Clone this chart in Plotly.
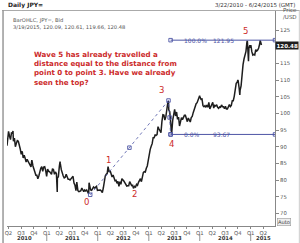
import plotly.graph_objects as go

# ---------------- data ----------------
dates = [
 "2010-03-22","2010-03-26","2010-04-02","2010-04-09","2010-04-16","2010-04-23","2010-04-30","2010-05-04","2010-05-07","2010-05-14",
 "2010-05-21","2010-05-28","2010-06-04","2010-06-11","2010-06-18","2010-06-25","2010-07-02","2010-07-09","2010-07-16","2010-07-23",
 "2010-07-30","2010-08-06","2010-08-13","2010-08-20","2010-08-27","2010-09-03","2010-09-10","2010-09-15","2010-09-17","2010-09-24",
 "2010-10-01","2010-10-08","2010-10-15","2010-10-22","2010-10-29","2010-11-05","2010-11-12","2010-11-19","2010-11-26","2010-12-03",
 "2010-12-10","2010-12-17","2010-12-24","2010-12-31",
 "2011-01-07","2011-01-14","2011-01-21","2011-01-28","2011-02-04","2011-02-11","2011-02-18","2011-02-25","2011-03-04","2011-03-11",
 "2011-03-17","2011-03-18","2011-03-25","2011-04-01","2011-04-06","2011-04-08","2011-04-15","2011-04-22","2011-04-29","2011-05-06",
 "2011-05-13","2011-05-20","2011-05-27","2011-06-03","2011-06-10","2011-06-17","2011-06-24","2011-07-01","2011-07-08","2011-07-15",
 "2011-07-22","2011-07-29","2011-08-04","2011-08-12","2011-08-19","2011-08-26","2011-09-02","2011-09-09","2011-09-16","2011-09-23",
 "2011-09-30","2011-10-07","2011-10-14","2011-10-21","2011-10-28","2011-10-31","2011-11-04","2011-11-11","2011-11-18","2011-11-25",
 "2011-12-02","2011-12-09","2011-12-16","2011-12-23","2011-12-30",
 "2012-01-06","2012-01-13","2012-01-20","2012-01-27","2012-02-03","2012-02-10","2012-02-17","2012-02-24","2012-03-02","2012-03-09",
 "2012-03-15","2012-03-23","2012-03-30","2012-04-06","2012-04-13","2012-04-20","2012-04-27","2012-05-04","2012-05-11","2012-05-18",
 "2012-05-25","2012-06-01","2012-06-08","2012-06-15","2012-06-22","2012-06-29","2012-07-06","2012-07-13","2012-07-20","2012-07-27",
 "2012-08-03","2012-08-10","2012-08-17","2012-08-24","2012-08-31","2012-09-07","2012-09-13","2012-09-21","2012-09-28","2012-10-05",
 "2012-10-12","2012-10-19","2012-10-26","2012-11-02","2012-11-09","2012-11-16","2012-11-23","2012-11-30","2012-12-07","2012-12-14",
 "2012-12-21","2012-12-28",
 "2013-01-04","2013-01-11","2013-01-18","2013-01-25","2013-02-01","2013-02-08","2013-02-15","2013-02-22","2013-03-01","2013-03-08",
 "2013-03-15","2013-03-22","2013-03-29","2013-04-05","2013-04-12","2013-04-19","2013-04-26","2013-05-03","2013-05-10","2013-05-17",
 "2013-05-22","2013-05-24","2013-05-31","2013-06-07","2013-06-13","2013-06-14","2013-06-21","2013-06-28","2013-07-05","2013-07-12",
 "2013-07-19","2013-07-26","2013-08-02","2013-08-09","2013-08-16","2013-08-23","2013-08-30","2013-09-06","2013-09-13","2013-09-20",
 "2013-09-27","2013-10-04","2013-10-11","2013-10-18","2013-10-25","2013-11-01","2013-11-08","2013-11-15","2013-11-22","2013-11-29",
 "2013-12-06","2013-12-13","2013-12-20","2013-12-27","2013-12-31",
 "2014-01-03","2014-01-10","2014-01-17","2014-01-24","2014-01-31","2014-02-07","2014-02-14","2014-02-21","2014-02-28","2014-03-07",
 "2014-03-14","2014-03-21","2014-03-28","2014-04-04","2014-04-11","2014-04-18","2014-04-25","2014-05-02","2014-05-09","2014-05-16",
 "2014-05-23","2014-05-30","2014-06-06","2014-06-13","2014-06-20","2014-06-27","2014-07-04","2014-07-11","2014-07-18","2014-07-25",
 "2014-08-01","2014-08-08","2014-08-15","2014-08-22","2014-08-29","2014-09-05","2014-09-12","2014-09-19","2014-09-26","2014-10-01",
 "2014-10-03","2014-10-10","2014-10-15","2014-10-17","2014-10-24","2014-10-31","2014-11-07","2014-11-14","2014-11-21","2014-11-28",
 "2014-12-05","2014-12-08","2014-12-12","2014-12-16","2014-12-19","2014-12-26","2014-12-31",
 "2015-01-02","2015-01-09","2015-01-16","2015-01-23","2015-01-30","2015-02-06","2015-02-13","2015-02-20","2015-02-27","2015-03-06",
 "2015-03-10","2015-03-13","2015-03-19",
]
closes = [
 90.3, 92.5, 94.6, 93.2, 92.1, 94.1, 94.0, 94.7, 91.6, 92.6,
 90.0, 91.0, 91.8, 91.6, 90.7, 89.3, 87.7, 88.6, 86.6, 87.4,
 86.5, 85.4, 86.2, 85.6, 85.2, 84.3, 83.9, 85.8, 85.8, 84.2,
 83.3, 82.0, 81.4, 81.4, 80.4, 81.2, 82.5, 83.5, 84.0, 82.6,
 83.9, 84.0, 82.9, 81.1,
 83.3, 82.6, 82.5, 82.1, 81.7, 83.4, 83.1, 81.7, 82.4, 81.9,
 76.4, 80.6, 81.0, 84.1, 85.5, 84.9, 83.1, 81.9, 81.2, 80.6,
 80.8, 81.7, 80.8, 80.2, 80.2, 80.0, 80.4, 80.7, 81.1, 79.1,
 78.4, 76.8, 79.4, 76.8, 76.5, 76.6, 76.8, 77.6, 76.8, 76.5,
 77.0, 76.7, 77.0, 76.2, 75.8, 79.2, 78.2, 77.0, 76.9, 77.7,
 77.9, 77.6, 77.8, 78.1, 76.9,
 77.0, 76.9, 77.0, 76.7, 76.2, 77.6, 79.5, 81.2, 81.7, 82.0,
 84.0, 82.4, 82.8, 81.6, 80.9, 81.5, 80.3, 79.8, 79.9, 79.0,
 79.6, 78.1, 79.5, 78.7, 80.4, 79.8, 79.7, 79.2, 78.5, 78.2,
 78.3, 78.3, 79.5, 78.7, 78.3, 78.4, 77.5, 78.1, 77.9, 78.7,
 78.4, 79.3, 79.8, 80.4, 79.5, 81.3, 82.3, 82.5, 82.4, 83.5,
 84.2, 85.9,
 88.2, 89.2, 90.1, 90.9, 92.7, 92.7, 93.5, 93.4, 93.6, 96.0,
 95.3, 94.5, 94.2, 97.6, 99.6, 99.5, 98.0, 99.0, 101.6, 103.2,
 103.7, 101.0, 100.5, 97.5, 94.0, 94.1, 97.9, 99.1, 101.2, 99.2,
 100.4, 98.2, 98.9, 96.2, 97.5, 98.7, 98.1, 99.1, 99.4, 99.4,
 98.3, 97.5, 98.6, 97.8, 97.4, 98.7, 99.1, 100.2, 101.3, 102.4,
 102.9, 103.2, 104.1, 105.3, 105.3,
 104.8, 104.2, 104.3, 102.3, 102.0, 102.3, 101.8, 102.5, 101.8, 103.3,
 101.3, 102.2, 102.8, 103.3, 101.6, 102.4, 102.2, 102.6, 101.8, 101.5,
 101.9, 101.8, 102.5, 102.0, 102.0, 101.4, 102.1, 101.3, 101.3, 101.8,
 102.6, 102.0, 102.4, 103.8, 103.8, 105.1, 107.3, 109.0, 109.3, 110.0,
 109.8, 107.6, 105.5, 106.9, 108.2, 112.3, 114.6, 116.3, 117.7, 118.6,
 121.4, 121.8, 118.8, 115.6, 119.5, 120.4, 119.7,
 120.5, 118.5, 117.5, 117.7, 117.5, 119.1, 118.7, 119.0, 119.6, 120.8,
 121.9, 121.4, 120.48,
]

# Elliott wave fib-extension tool points (0 -> 3 -> 4)
tool_dates = ["2011-11-08", "2012-08-15", "2013-05-22", "2013-05-30", "2013-06-06"]
tool_vals = [75.57, 89.7, 103.85, 98.76, 93.67]
fib_levels = [121.95, 93.67]
fib_pct = ["100.0%", "0.0%"]
fib_start, fib_end = "2013-06-06", "2015-06-24"

wave_labels = ["0", "1", "2", "3", "4", "5"]
wave_dates = ["2011-10-12", "2012-03-15", "2012-09-20", "2013-04-03", "2013-06-13", "2014-11-28"]
wave_vals = [73.5, 86.0, 75.8, 107.0, 90.7, 124.8]

yticks = [70, 75, 80, 85, 90, 95, 100, 105, 110, 115, 125]
qtick_dates = ["2010-04-01","2010-07-01","2010-10-01","2011-01-01","2011-04-01","2011-07-01","2011-10-01",
               "2012-01-01","2012-04-01","2012-07-01","2012-10-01","2013-01-01","2013-04-01","2013-07-01",
               "2013-10-01","2014-01-01","2014-04-01","2014-07-01","2014-10-01","2015-01-01","2015-04-01"]
qtick_text = ["Q2","Q3","Q4","Q1","Q2","Q3","Q4","Q1","Q2","Q3","Q4","Q1","Q2","Q3","Q4","Q1","Q2","Q3","Q4","Q1","Q2"]
years = ["2010", "2011", "2012", "2013", "2014", "2015"]
year_pos = ["2010-07-28", "2011-07-02", "2012-07-01", "2013-07-02", "2014-07-02", "2015-04-01"]
year_seps = ["2011-01-01", "2012-01-01", "2013-01-01", "2014-01-01", "2015-01-01"]
last_close = 120.48

# ---------------- layout helpers ----------------
W, H = 300, 243
ML, MR, MT, MB = 5, 25, 10, 17
PW, PH = W - ML - MR, H - MT - MB
def px(x): return (x - ML) / PW
def py(y): return (H - MB - y) / PH

FONT = "DejaVu Sans"
BLUE = "#4d55a5"
RED = "#cc2a2a"

fig = go.Figure()
fig.add_trace(go.Scatter(x=dates, y=closes, mode="lines",
                         line=dict(color="#1e1e1e", width=1.5), hoverinfo="skip"))
# dashed tool path
fig.add_trace(go.Scatter(x=tool_dates, y=tool_vals, mode="lines+markers",
                         line=dict(color=BLUE, width=0.8, dash="dot"),
                         marker=dict(symbol="square-open", size=3.5, color=BLUE, line=dict(width=0.9))))
# fib levels
for lvl in fib_levels:
    fig.add_trace(go.Scatter(x=[fib_start, fib_end], y=[lvl, lvl], mode="lines+markers",
                             line=dict(color=BLUE, width=1),
                             marker=dict(symbol="square-open", size=3.5, color=BLUE, line=dict(width=0.9))))

ann = []
for lvl, pct in zip(fib_levels, fib_pct):
    ann.append(dict(x="2013-08-25", y=lvl, text=pct, showarrow=False, xanchor="left",
                    font=dict(family=FONT, size=6, color=BLUE)))
    ann.append(dict(x="2014-03-20", y=lvl, text=f"{lvl:.2f}", showarrow=False, xanchor="left",
                    font=dict(family=FONT, size=6, color=BLUE)))
for t, d, v in zip(wave_labels, wave_dates, wave_vals):
    ann.append(dict(x=d, y=v, text=t, showarrow=False,
                    font=dict(family=FONT, size=8.5, color=RED)))
ann.append(dict(x=px(30), y=py(47.5), xref="paper", yref="paper", xanchor="left", yanchor="top", align="left",
                showarrow=False,
                text="<b>Wave 5 has already travelled a<br>distance equal to the distance from<br>point 0 to point 3. Have we already<br>seen the top?</b>",
                font=dict(family=FONT, size=7.1, color=RED)))
# header
ann.append(dict(x=px(4), y=py(5), xref="paper", yref="paper", xanchor="left", yanchor="middle", showarrow=False,
                text="<b>Daily JPY=</b>", font=dict(family=FONT, size=6, color="#222")))
ann.append(dict(x=px(297), y=py(5), xref="paper", yref="paper", xanchor="right", yanchor="middle", showarrow=False,
                text="3/22/2010 - 6/24/2015 (GMT)", font=dict(family=FONT, size=5.5, color="#333")))
ann.append(dict(x=px(9), y=py(15), xref="paper", yref="paper", xanchor="left", yanchor="top", align="left",
                showarrow=False, text="BarOHLC, JPY=, Bid<br>3/19/2015, 120.09, 120.61, 119.66, 120.48",
                font=dict(family=FONT, size=5.2, color="#555")))
ann.append(dict(x=px(281), y=py(14), xref="paper", yref="paper", xanchor="left", yanchor="middle", showarrow=False,
                text="Price<br>/USD", align="left", font=dict(family=FONT, size=5.5, color="#555")))
ann.append(dict(x=px(275), y=last_close, xref="paper", yref="y", xanchor="left", yanchor="middle", showarrow=False,
                text="<b>120.48</b>", bgcolor="#1e1e1e", borderpad=0.5,
                font=dict(family=FONT, size=5.5, color="white")))
ann.append(dict(x=px(277), y=py(222), xref="paper", yref="paper", xanchor="left", yanchor="middle", showarrow=False,
                text="Auto", bgcolor="#eeeeee", bordercolor="#999", borderwidth=0.6, borderpad=0.3,
                font=dict(family=FONT, size=5.2, color="#444")))
for yv, yp in zip(years, year_pos):
    ann.append(dict(x=yp, y=py(237.5), xref="x", yref="paper", showarrow=False, yanchor="middle",
                    text=f"<b>{yv}</b>", font=dict(family=FONT, size=5.3, color="#333")))

shapes = []
for ys in year_seps:
    shapes.append(dict(type="line", xref="x", yref="paper", x0=ys, x1=ys, y0=py(234), y1=py(241),
                       line=dict(color="#666", width=0.7)))
# frame
shapes.append(dict(type="line", xref="paper", yref="paper", x0=px(0), x1=px(300), y0=py(10.5), y1=py(10.5),
                   line=dict(color="#aaa", width=1)))
shapes.append(dict(type="line", xref="paper", yref="paper", x0=px(1), x1=px(1), y0=py(10), y1=py(243),
                   line=dict(color="#999", width=1.5)))
shapes.append(dict(type="line", xref="paper", yref="paper", x0=px(299.5), x1=px(299.5), y0=py(10), y1=py(243),
                   line=dict(color="#ccc", width=1)))

fig.update_layout(
    width=W, height=H, margin=dict(l=ML, r=MR, t=MT, b=MB),
    paper_bgcolor="white", plot_bgcolor="white", showlegend=False,
    annotations=ann, shapes=shapes,
    font=dict(family=FONT, size=6, color="#555"),
    xaxis=dict(type="date", range=["2010-03-22", "2015-06-24"], showgrid=False, zeroline=False,
               tickmode="array", tickvals=qtick_dates, ticktext=qtick_text,
               ticks="outside", ticklen=2, tickcolor="#888", tickfont=dict(size=5.3, color="#555"),
               showline=True, linecolor="#888", linewidth=1),
    yaxis=dict(side="right", range=[66.2, 131.0], showgrid=False, zeroline=False,
               tickmode="array", tickvals=yticks, ticks="outside", ticklen=3, tickcolor="#888",
               tickfont=dict(size=5.3, color="#555"),
               showline=True, linecolor="#888", linewidth=1),
)
fig.write_html("out.html")
